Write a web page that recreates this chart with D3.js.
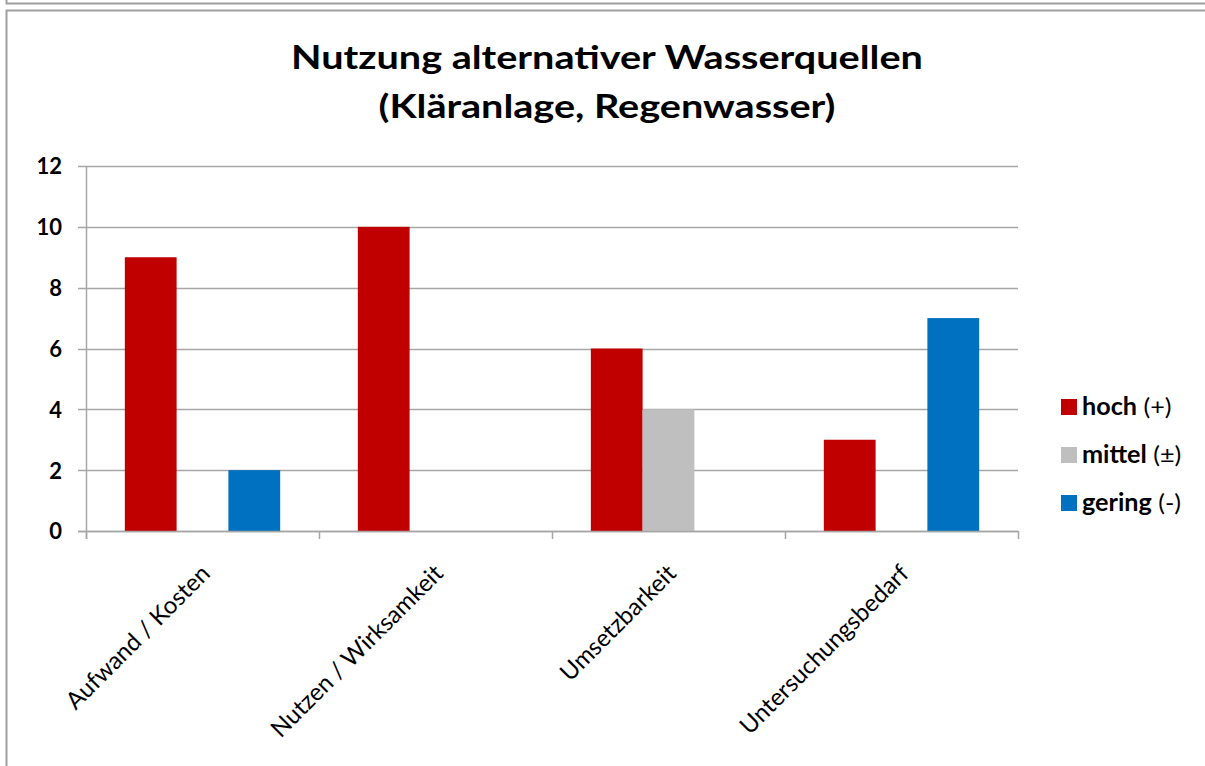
<html>
<head>
  <meta charset="utf-8">
  <script src="https://d3js.org/d3.v7.min.js"></script>
  <style>
    html, body { margin: 0; background: #fff; }
    text { font-family: Lato, "Open Sans", sans-serif; fill: #000; }
  </style>
</head>
<body>
<script>
  var categories = ['Aufwand / Kosten', 'Nutzen / Wirksamkeit', 'Umsetzbarkeit', 'Untersuchungsbedarf'];
  var seriesNames = ['hoch', 'mittel', 'gering'];
  var seriesMarks = ['(+)', '(\u00b1)', '(-)'];
  var seriesColors = ['#c00000', '#bfbfbf', '#0070c0'];
  var hoch = [9, 10, 6, 3];
  var mittel = [0, 0, 4, 0];
  var gering = [2, 0, 0, 7];
  var yTicks = [0, 2, 4, 6, 8, 10, 12];

  var series = [hoch, mittel, gering];
  var width = 1205, height = 766;
  var plotLeft = 86, plotRight = 1018, plotTop = 166, plotBottom = 531;
  var grid = '#a6a6a6';

  var svg = d3.select('body').append('svg')
    .attr('width', width)
    .attr('height', height);

  // frames (bottom of the previous chart box, then this one)
  svg.append('path')
    .attr('d', 'M6.5,0 V3.5 H' + width)
    .attr('fill', 'none').attr('stroke', '#a0a0a0').attr('stroke-width', 2);
  svg.append('path')
    .attr('d', 'M' + width + ',10.5 H6.5 V' + height)
    .attr('fill', 'none').attr('stroke', '#a0a0a0').attr('stroke-width', 2);

  var x = d3.scaleBand().domain(categories).range([plotLeft, plotRight]);
  var xs = d3.scaleBand().domain(d3.range(3)).range([0, x.bandwidth()]).paddingOuter(0.75);
  var y = d3.scaleLinear().domain([0, 12]).range([plotBottom, plotTop]);

  // title, stretched wide like the original
  var titleLines = ['Nutzung alternativer Wasserquellen', '(Kl\u00e4ranlage, Regenwasser)'];
  svg.append('g').selectAll('text').data(titleLines).enter().append('text')
    .attr('transform', function (d, i) { return 'translate(607,' + (69 + i * 49) + ') scale(1.2,1)'; })
    .attr('text-anchor', 'middle')
    .style('font-size', '33px').style('font-weight', 'bold')
    .text(function (d) { return d; });

  // gridlines
  svg.append('g').selectAll('line').data(yTicks).enter().append('line')
    .attr('x1', plotLeft - 8).attr('x2', plotRight)
    .attr('y1', function (d) { return Math.round(y(d)) + 0.5; })
    .attr('y2', function (d) { return Math.round(y(d)) + 0.5; })
    .attr('stroke', grid).attr('stroke-width', 1.5);

  // y tick labels
  var gy = svg.append('g').attr('transform', 'translate(' + (plotLeft - 8) + ',0)');
  gy.call(d3.axisLeft(y).tickValues(yTicks).tickSize(0).tickPadding(16));
  gy.select('.domain').remove();
  gy.selectAll('text')
    .attr('dy', '0.36em')
    .style('font-size', '22px').style('font-weight', 'bold')
    .style('font-family', 'Lato, sans-serif');

  // bars
  var groups = svg.append('g').selectAll('g').data(categories).enter().append('g')
    .attr('transform', function (d) { return 'translate(' + x(d) + ',0)'; });
  groups.selectAll('rect')
    .data(function (d, i) {
      return series.map(function (s, j) { return { j: j, v: s[i] }; }).filter(function (d) { return d.v > 0; });
    })
    .enter().append('rect')
    .attr('x', function (d) { return xs(d.j); })
    .attr('width', xs.bandwidth())
    .attr('y', function (d) { return y(d.v); })
    .attr('height', function (d) { return y(0) - y(d.v); })
    .attr('fill', function (d) { return seriesColors[d.j]; });

  // axes lines
  svg.append('line').attr('x1', plotLeft + 0.5).attr('x2', plotLeft + 0.5).attr('y1', plotTop).attr('y2', plotBottom + 8)
    .attr('stroke', grid).attr('stroke-width', 1.5);
  svg.append('line').attr('x1', plotLeft - 8).attr('x2', plotRight)
    .attr('y1', Math.round(y(0)) + 0.5).attr('y2', Math.round(y(0)) + 0.5)
    .attr('stroke', grid).attr('stroke-width', 1.5);
  var bounds = categories.map(function (c) { return x(c); }).concat([plotRight]);
  svg.append('g').selectAll('line').data(bounds).enter().append('line')
    .attr('x1', function (d) { return Math.round(d) + 0.5; })
    .attr('x2', function (d) { return Math.round(d) + 0.5; })
    .attr('y1', plotBottom).attr('y2', plotBottom + 8)
    .attr('stroke', grid).attr('stroke-width', 1.5);

  // category labels
  svg.append('g').selectAll('text').data(categories).enter().append('text')
    .attr('transform', function (d) {
      return 'translate(' + (x(d) + x.bandwidth() / 2 + 9) + ',' + (plotBottom + 44) + ') rotate(-45)';
    })
    .attr('text-anchor', 'end')
    .style('font-size', '24px')
    .text(function (d) { return d; });

  // legend
  var leg = svg.append('g').selectAll('g').data(seriesNames).enter().append('g')
    .attr('transform', function (d, i) { return 'translate(1061,' + (399 + i * 48) + ')'; });
  leg.append('rect').attr('width', 16).attr('height', 16)
    .attr('fill', function (d, i) { return seriesColors[i]; });
  var lt = leg.append('text').attr('transform', 'translate(21,16) scale(1.05,1)')
    .style('font-size', '24px');
  lt.append('tspan').style('font-weight', 'bold').text(function (d) { return d; });
  lt.append('tspan').text(function (d, i) { return ' ' + seriesMarks[i]; });
</script>
</body>
</html>
